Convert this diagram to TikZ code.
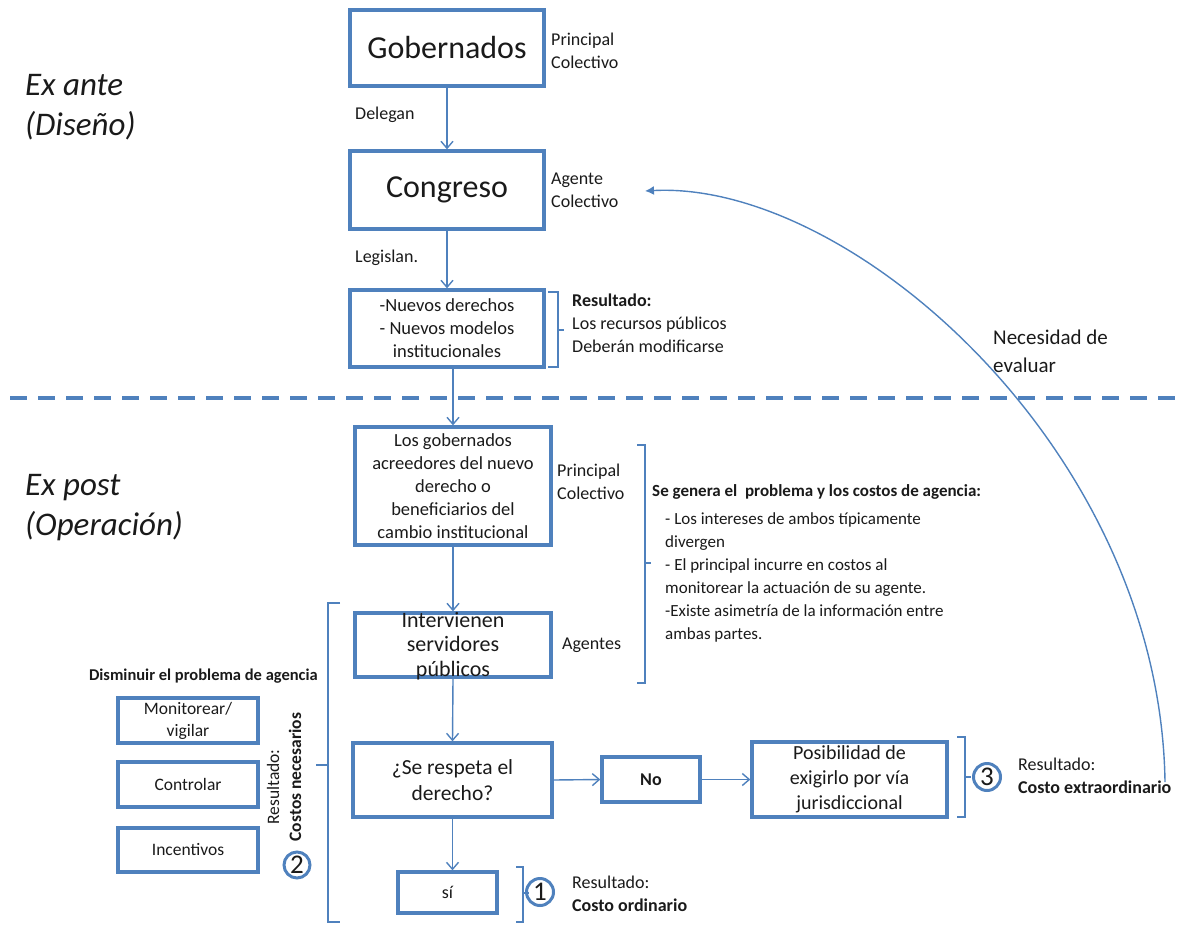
\documentclass[tikz,border=0pt]{standalone}
\usepackage{fontspec}
\setmainfont{Carlito}
\usetikzlibrary{arrows.meta,calc}
\definecolor{bl}{HTML}{4F81BD}
\definecolor{txt}{HTML}{1A1A1A}
\begin{document}
\begin{tikzpicture}[x=1pt,y=-1pt,
 box/.style={draw=bl,line width=3.3pt,rectangle,inner sep=0pt,text=txt,align=center},
 flow/.style={draw=bl,line width=1.4pt,-{Straight Barb[length=7pt,width=12pt,line width=1.4pt]}},
 brk/.style={draw=bl,line width=1.4pt},
 num/.style={circle,draw=bl,line width=3pt,minimum size=27pt,inner sep=0pt,text=txt,font=\fontsize{27}{27}\selectfont},
 lbl/.style={anchor=west,align=left,inner sep=0pt,text=txt},
 f18/.style={font=\fontsize{18}{23}\selectfont},
 f17/.style={font=\fontsize{17}{23}\selectfont},
]
\useasboundingbox (0,0) rectangle (1185,926);

% side titles
\node[lbl,font=\fontsize{33}{40}\itshape\selectfont] (exante) at (25,107) {Ex ante\\(Diseño)};
\node[lbl,font=\fontsize{33}{40}\itshape\selectfont] (expost) at (25,508) {Ex post\\(Operación)};

% dashed separator
\coordinate (dl) at (10,398);
\coordinate (dr) at (1185,398);
\draw[draw=bl,line width=3.2pt,dash pattern=on 17pt off 11pt] (dl) -- (dr);

% main boxes
\node[box,minimum width=194pt,minimum height=76pt,font=\fontsize{32}{38}\selectfont] (gob) at (447,48) {Gobernados};
\node[box,minimum width=194pt,minimum height=78pt,font=\fontsize{32}{38}\selectfont] (cong) at (447,190) {Congreso};
\node[box,minimum width=194pt,minimum height=77pt,font=\fontsize{18.5}{23}\selectfont] (nuevos) at (447,328.5) {-Nuevos derechos\\- Nuevos modelos\\institucionales};
\node[box,minimum width=196pt,minimum height=118pt,font=\fontsize{18.5}{23}\selectfont] (losgob) at (453,486) {Los gobernados\\acreedores del nuevo\\derecho o\\beneficiarios del\\cambio institucional};
\node[box,minimum width=196pt,minimum height=64pt] (inter) at (453,645) {};
\node[inner sep=0pt,align=center,text=txt,font=\fontsize{22}{24.5}\selectfont] (intertxt) at (453,646) {Intervienen\\servidores\\públicos};
\node[box,minimum width=199pt,minimum height=74pt,font=\fontsize{21.5}{26}\selectfont] (resp) at (452.5,780) {¿Se respeta el\\derecho?};
\node[box,minimum width=98pt,minimum height=45pt,font=\fontsize{18}{22}\bfseries\selectfont] (no) at (651,779.5) {No};
\node[box,minimum width=195pt,minimum height=75pt,font=\fontsize{20}{25}\selectfont] (posib) at (849.5,779.5) {Posibilidad de\\exigirlo por vía\\jurisdiccional};
\node[box,minimum width=99pt,minimum height=41pt,font=\fontsize{18}{22}\selectfont] (si) at (447.5,892.5) {sí};

% left boxes
\node[box,minimum width=140pt,minimum height=45pt,font=\fontsize{17.5}{22}\selectfont] (mon) at (188,720.5) {Monitorear/\\vigilar};
\node[box,minimum width=140pt,minimum height=45pt,font=\fontsize{17.5}{22}\selectfont] (ctrl) at (188,784.5) {Controlar};
\node[box,minimum width=140pt,minimum height=44pt,font=\fontsize{17.5}{22}\selectfont] (inc) at (188,850) {Incentivos};

% flow arrows
\draw[flow] (gob.south) -- (cong.north);
\draw[flow] (cong.south) -- (nuevos.north);
\draw[flow] (losgob.north |- nuevos.south) -- (losgob.north);
\draw[flow] (losgob.south) -- (inter.north);
\draw[flow] (inter.south) -- (resp.north);
\draw[flow] (resp.east) -- (no.west);
\draw[flow] (no.east) -- (posib.west);
\draw[flow] (resp.south) -- (resp.south |- si.north);

% labels
\node[lbl,f18] (pc1) at (551,51) {Principal\\Colectivo};
\node[lbl,f18] (ac) at (551,190.5) {Agente\\Colectivo};
\node[lbl,f18] (deleg) at (355,115) {Delegan};
\node[lbl,f18] (legis) at (355,258) {Legislan.};
\node[lbl,f18] (res1) at (572,323) {\textbf{Resultado:}\\Los recursos públicos\\Deberán modificarse};
\node[lbl,font=\fontsize{21}{28}\selectfont] (neces) at (993,351) {Necesidad de\\evaluar};
\node[lbl,f18] (pc2) at (557,481.5) {Principal\\Colectivo};
\node[lbl,f18] (agentes) at (562,645) {Agentes};
\node[lbl,font=\fontsize{17}{23}\bfseries\selectfont] (segen) at (652,492) {Se genera el\ \ problema y los costos de agencia:};
\node[lbl,f17] (lista) at (665,577.5) {- Los intereses de ambos típicamente\\divergen\\- El principal incurre en costos al\\monitorear la actuación de su agente.\\-Existe asimetría de la información entre\\ambas partes.};
\node[anchor=east,inner sep=0pt,text=txt,font=\fontsize{16.5}{20}\bfseries\selectfont] (dism) at (318,676) {Disminuir el problema de agencia};
\node[rotate=90,inner sep=0pt,text=txt,font=\fontsize{17.5}{20}\selectfont] (resrot) at (273,787) {Resultado:};
\node[rotate=90,inner sep=0pt,text=txt,font=\fontsize{17.5}{20}\bfseries\selectfont] (cnrot) at (295,777) {Costos necesarios};
\node[lbl,f18] (res3) at (1018,776) {Resultado:\\\textbf{Costo extraordinario}};
\node[lbl,f18] (res4) at (572,894) {Resultado:\\\textbf{Costo ordinario}};

% numbered circles
\node[num] (c1) at (540,892) {1};
\node[num,minimum size=26pt] (c2) at (297,865) {2};
\node[num] (c3) at (987,777) {3};

% brackets
\draw[brk] (548,292) -- (558,292) -- (558,367) -- (548,367);
\draw[brk] (558,330) -- (564,330);
\draw[brk] (637,445) -- (645,445) -- (645,683) -- (637,683);
\draw[brk] (645,563) -- (651,563);
\draw[brk] (340,603) -- (328,603) -- (328,922) -- (340,922);
\draw[brk] (328,765) -- (316,765);
\draw[brk] (957,737) -- (965,737) -- (965,817) -- (957,817);
\draw[brk] (965,777) -- (971,777);
\draw[brk] (516,867) -- (523,867) -- (523,922) -- (516,922);
\draw[brk] (523,893) -- (529,893);

% feedback curve
\coordinate (cs) at (1165,782);
\coordinate (ce) at (645,191);
\draw[draw=bl,line width=1.4pt,-{Latex[length=9pt,width=9pt]}] (cs) .. controls (1160,450) and (850,180) .. (ce);
\end{tikzpicture}
\end{document}
